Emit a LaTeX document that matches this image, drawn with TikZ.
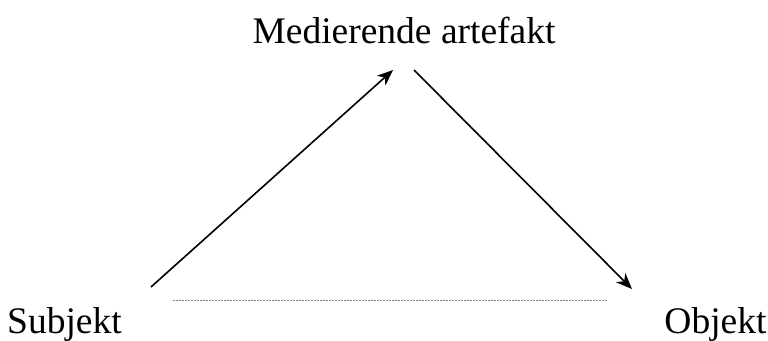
\documentclass[tikz,border=0pt]{standalone}
\usepackage{fontspec}
\setmainfont{Liberation Serif}
\usetikzlibrary{arrows.meta}
\begin{document}
\begin{tikzpicture}[x=1pt,y=-1pt,
  lbl/.style={inner sep=0pt,anchor=base,font=\fontsize{37.5}{42}\selectfont},
  arr/.style={line width=1.6pt,-{Stealth[length=16pt,width=13pt,inset=5pt]}},
  dotline/.style={line width=1pt,gray,dash pattern=on 2pt off 1pt}]
\useasboundingbox (0,0) rectangle (768,340);
\node[lbl] (med) at (404,43) {Medierende artefakt};
\node[lbl] (subj) at (64.5,333) {Subjekt};
\node[lbl] (obj) at (715.5,333) {Objekt};
\coordinate (s1) at (151,287);
\coordinate (m1) at (393,70);
\coordinate (m2) at (414,70);
\coordinate (o1) at (632,289);
\coordinate (d1) at (173,300);
\coordinate (d2) at (607,300);
\draw[arr] (s1) -- (m1);
\draw[arr] (m2) -- (o1);
\draw[dotline] (d1) -- (d2);
\end{tikzpicture}
\end{document}
